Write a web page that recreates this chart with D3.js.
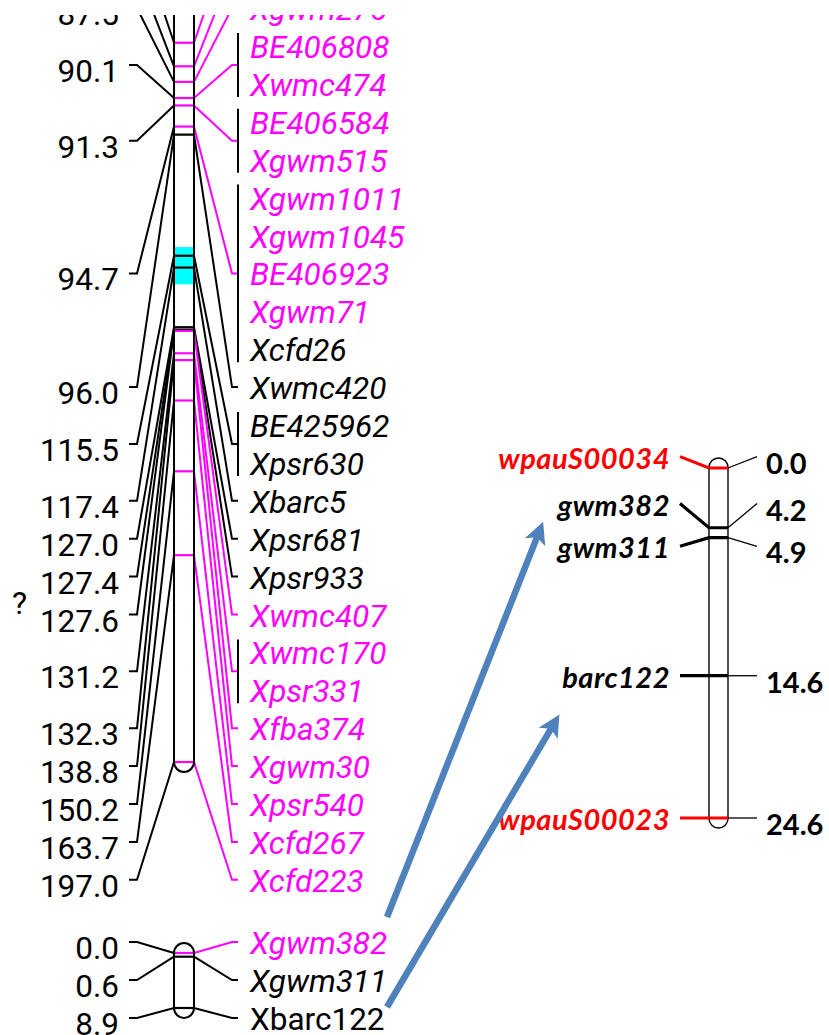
<!DOCTYPE html>
<html>
<head>
<meta charset="utf-8">
<script src="https://cdn.jsdelivr.net/npm/d3@7"></script>
<style>
  body { margin: 0; background: #fff; }
  svg { display: block; }
</style>
</head>
<body>
<div id="vis"></div>
<script>
// ---- data ----
// consensus map (left, long chromosome): marker positions in cM and the markers at each one
const MAIN_CM = [81.2, 85.0, 87.5, 90.1, 91.3, 94.7, 96.0, 115.5, 117.4,
                 127.0, 127.4, 127.6, 131.2, 132.3, 138.8, 150.2, 163.7, 197.0];
const MAIN_MARKERS = [
  [""], [""], ["Xgwm275"], ["BE406808", "Xwmc474"], ["BE406584", "Xgwm515"],
  ["Xgwm1011", "Xgwm1045", "BE406923", "Xgwm71", "Xcfd26"], ["Xwmc420"],
  ["BE425962", "Xpsr630"], ["Xbarc5"], ["Xpsr681"], ["Xpsr933"], ["Xwmc407"],
  ["Xwmc170", "Xpsr331"], ["Xfba374"], ["Xgwm30"], ["Xpsr540"], ["Xcfd267"], ["Xcfd223"]
];
const QTL_CM = [114.1, 120.1];

// small linkage group under it
const SMALL_CM = [0.0, 0.6, 8.9];
const SMALL_MARKERS = [["Xgwm382"], ["Xgwm311"], ["Xbarc122"]];

// markers shown in magenta, and the one written upright
const MAGENTA_MARKERS = ["", "Xgwm275", "BE406808", "Xwmc474", "BE406584", "Xgwm515",
  "Xgwm1011", "Xgwm1045", "BE406923", "Xgwm71", "Xwmc407", "Xwmc170", "Xpsr331",
  "Xfba374", "Xgwm30", "Xpsr540", "Xcfd267", "Xcfd223", "Xgwm382"];
const UPRIGHT_MARKERS = ["Xbarc122"];

// new map (right)
const RIGHT_NAMES = ["wpauS00034", "gwm382", "gwm311", "barc122", "wpauS00023"];
const RIGHT_CM = [0.0, 4.2, 4.9, 14.6, 24.6];
const RIGHT_LABEL_CM = [-0.8, 2.5, 5.5, 14.6, 24.6];   // where the labels sit along the map
const RED_MARKERS = ["wpauS00034", "wpauS00023"];

// ---- frame ----
const FRAME_WIDTH = 829;
const FRAME_HEIGHT = 1035;
const TOP_CUT = 15;   // the source figure is cropped here
const MAGENTA = "#ff00ff", CYAN = "#00ffff", RED = "#ff0000", ARROW_BLUE = "#4f81bd";
const LEFT_FONT = 31.5;

const FRAME = d3.select("#vis")
  .append("svg")
    .attr("width", FRAME_WIDTH)
    .attr("height", FRAME_HEIGHT);

const DEFS = FRAME.append("defs");
DEFS.append("clipPath").attr("id", "crop")
  .append("rect")
    .attr("x", 0).attr("y", TOP_CUT)
    .attr("width", FRAME_WIDTH).attr("height", FRAME_HEIGHT - TOP_CUT);

const line = d3.line();

// left map geometry
const BAR = {left: 174, right: 194};
const yMain = d3.scaleLinear().domain([90.1, 197.0]).range([98, 762]);
const slotMain = d3.scaleLinear().domain([0, 23]).range([8.1, 879.8]);
const ySmall = d3.scaleLinear().domain([0, 8.9]).range([953, 1008]);
const slotSmall = d3.scaleLinear().domain([0, 2]).range([942, 1018]);

function markerColor(m) { return MAGENTA_MARKERS.includes(m) ? MAGENTA : "#000"; }

const LEFT = FRAME.append("g").attr("clip-path", "url(#crop)");

// chromosome bars (fill first)
const mainBar = d3.path();
mainBar.moveTo(BAR.left, -20);
mainBar.lineTo(BAR.left, yMain(197.0));
mainBar.arc((BAR.left + BAR.right) / 2, yMain(197.0), (BAR.right - BAR.left) / 2, Math.PI, 0, true);
mainBar.lineTo(BAR.right, -20);

LEFT.append("path").attr("d", mainBar.toString()).attr("fill", "#fff");
LEFT.append("rect")
  .attr("x", BAR.left).attr("width", BAR.right - BAR.left)
  .attr("y", yMain(QTL_CM[0]))
  .attr("height", yMain(QTL_CM[1]) - yMain(QTL_CM[0]))
  .attr("fill", CYAN);

const smallTop = ySmall(0) - 10;
LEFT.append("rect")
  .attr("x", BAR.left).attr("width", BAR.right - BAR.left)
  .attr("y", smallTop).attr("height", ySmall(8.9) + 10 - smallTop)
  .attr("rx", 10).attr("ry", 10)
  .attr("fill", "#fff");

// draws one MapChart-style linkage group: ticks, connectors, positions and names
function drawMap(g, cms, markers, yScale, slotScale, firstSlot) {
  let slot = firstSlot;
  cms.forEach((cm, i) => {
    const names = markers[i];
    const slots = names.map((n, j) => slot + j);
    slot += names.length;
    const row = slotScale(d3.mean(slots));
    const y = yScale(cm);
    const col = markerColor(names[0]);

    // tick across the bar
    g.append("line")
      .attr("x1", BAR.left).attr("x2", BAR.right)
      .attr("y1", y).attr("y2", y)
      .attr("stroke", col).attr("stroke-width", 2.2);

    // left connector and position
    g.append("path")
      .attr("d", line([[129, row], [137, row], [BAR.left, y]]))
      .attr("fill", "none").attr("stroke", "#000").attr("stroke-width", 2);
    g.append("text")
      .attr("x", 119).attr("y", row + 17)
      .attr("text-anchor", "end")
      .attr("font-family", "Roboto").attr("font-size", LEFT_FONT)
      .text(cm.toFixed(1));

    // right connector, bracket and names
    g.append("path")
      .attr("d", line([[BAR.right, y], [232, row], [238, row]]))
      .attr("fill", "none").attr("stroke", col).attr("stroke-width", 2);
    if (names.length > 1) {
      g.append("line")
        .attr("x1", 238).attr("x2", 238)
        .attr("y1", slotScale(slots[0]) - 13)
        .attr("y2", slotScale(slots[slots.length - 1]) + 13)
        .attr("stroke", "#000").attr("stroke-width", 2);
    }
    names.forEach((n, j) => {
      g.append("text")
        .attr("x", 250).attr("y", slotScale(slots[j]) + 12)
        .attr("font-family", "Roboto").attr("font-size", LEFT_FONT)
        .attr("font-style", UPRIGHT_MARKERS.includes(n) ? "normal" : "italic")
        .attr("fill", markerColor(n))
        .text(n);
    });
  });
}

drawMap(LEFT, MAIN_CM, MAIN_MARKERS, yMain, slotMain, -2);
drawMap(LEFT, SMALL_CM, SMALL_MARKERS, ySmall, slotSmall, 0);

// bar outlines on top
LEFT.append("path").attr("d", mainBar.toString())
  .attr("fill", "none").attr("stroke", "#000").attr("stroke-width", 2);
LEFT.append("rect")
  .attr("x", BAR.left).attr("width", BAR.right - BAR.left)
  .attr("y", smallTop).attr("height", ySmall(8.9) + 10 - smallTop)
  .attr("rx", 10).attr("ry", 10)
  .attr("fill", "none").attr("stroke", "#000").attr("stroke-width", 2);

// stray glyph cut at the left edge
FRAME.append("text")
  .attr("x", 27).attr("y", 614)
  .attr("text-anchor", "end")
  .attr("font-family", "Roboto").attr("font-size", 32)
  .text("?");

// ---- right map ----
const RBAR = {left: 709, right: 728};
const yRight = d3.scaleLinear().domain([0, 24.6]).range([468, 818]);
const RIGHT = FRAME.append("g");

RIGHT.append("rect")
  .attr("x", RBAR.left).attr("width", RBAR.right - RBAR.left)
  .attr("y", yRight(0) - 10).attr("height", yRight(24.6) - yRight(0) + 20)
  .attr("rx", 9.5).attr("ry", 9.5)
  .attr("fill", "#fff").attr("stroke", "#000").attr("stroke-width", 1.4);

RIGHT_NAMES.forEach((n, i) => {
  const y = yRight(RIGHT_CM[i]);
  const row = yRight(RIGHT_LABEL_CM[i]);
  const col = RED_MARKERS.includes(n) ? RED : "#000";

  RIGHT.append("path")
    .attr("d", line([[680, row], [RBAR.left, y], [RBAR.right, y]]))
    .attr("fill", "none").attr("stroke", col).attr("stroke-width", 3.2);
  RIGHT.append("path")
    .attr("d", line([[RBAR.right, y], [757, row]]))
    .attr("fill", "none").attr("stroke", "#000").attr("stroke-width", 1.3);

  RIGHT.append("text")
    .attr("x", 670).attr("y", row + 12)
    .attr("text-anchor", "end")
    .attr("font-family", "Lato").attr("font-size", 29)
    .attr("font-weight", "bold").attr("font-style", "italic")
    .attr("letter-spacing", 0.5)
    .attr("fill", col)
    .text(n);
  RIGHT.append("text")
    .attr("x", 766).attr("y", row + 17)
    .attr("font-family", "Lato").attr("font-size", 29)
    .attr("font-weight", "bold")
    .text(RIGHT_CM[i].toFixed(1));
});

// ---- arrows linking the two maps ----
DEFS.append("marker")
  .attr("id", "head")
  .attr("viewBox", "0 -5 10 10")
  .attr("markerUnits", "userSpaceOnUse")
  .attr("markerWidth", 30).attr("markerHeight", 22)
  .attr("refX", 3.5).attr("refY", 0)
  .attr("orient", "auto")
  .append("path")
    .attr("d", "M0,-5L10,0L0,5L2.5,0Z")
    .attr("fill", ARROW_BLUE);

const ARROWS = [[[387, 917], [545, 517]], [[387, 1007], [562, 710]]];
ARROWS.forEach(([a, b]) => {
  const len = Math.hypot(b[0] - a[0], b[1] - a[1]);
  const back = 19.5;
  const end = [b[0] - (b[0] - a[0]) / len * back, b[1] - (b[1] - a[1]) / len * back];
  FRAME.append("line")
    .attr("x1", a[0]).attr("y1", a[1])
    .attr("x2", end[0]).attr("y2", end[1])
    .attr("stroke", ARROW_BLUE).attr("stroke-width", 6.5)
    .attr("marker-end", "url(#head)");
});
</script>
</body>
</html>
